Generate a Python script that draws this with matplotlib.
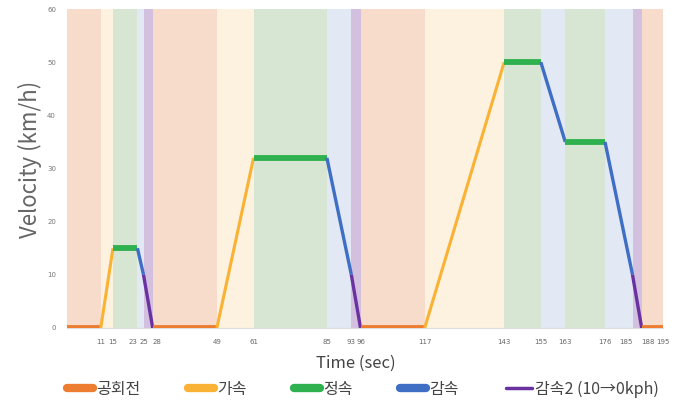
import matplotlib
matplotlib.use("Agg")
import matplotlib.pyplot as plt
from matplotlib.lines import Line2D

plt.rcParams['font.family'] = ['Noto Sans CJK KR', 'DejaVu Sans']

# breakpoints of the cycle (sec) and velocity (km/h)
times = [0, 11, 15, 23, 25, 28, 49, 61, 85, 93, 96, 117, 143, 155, 163, 176, 185, 188, 195]
speeds = [0, 0, 15, 15, 10, 0, 0, 32, 32, 10, 0, 0, 50, 50, 35, 35, 10, 0, 0]
# phase of each segment between breakpoints
phases = ['idle', 'acc', 'cru', 'dec', 'dec2', 'idle', 'acc', 'cru', 'dec', 'dec2',
          'idle', 'acc', 'cru', 'dec', 'cru', 'dec', 'dec2', 'idle']
labels = {'idle': '공회전', 'acc': '가속', 'cru': '정속', 'dec': '감속', 'dec2': '감속2 (10→0kph)'}
xticks = times[1:]

line_col = {'idle': '#ed7d31', 'acc': '#f9b233', 'cru': '#2fb14f', 'dec': '#3f6fc4', 'dec2': '#6a31a0'}
band_col = {'idle': '#f8dccb', 'acc': '#fcf2df', 'cru': '#d6e6d3', 'dec': '#e2e8f4', 'dec2': '#d3c0df'}
lw = {'idle': 4.2, 'acc': 2.2, 'cru': 4.2, 'dec': 2.4, 'dec2': 2.4}

fig = plt.figure(figsize=(6.85, 4.12), dpi=100)
ax = fig.add_axes([0.098, 0.204, 0.87, 0.774])

for i, p in enumerate(phases):
    ax.axvspan(times[i], times[i + 1], color=band_col[p], lw=0, zorder=0)
for i, p in enumerate(phases):
    ax.plot(times[i:i + 2], speeds[i:i + 2], color=line_col[p], lw=lw[p],
            solid_capstyle='butt', zorder=3)

narrow = ['Liberation Sans Narrow', 'DejaVu Sans']
ax.set_xlim(0, 195)
ax.set_ylim(0, 60)
ax.set_xticks(xticks)
ax.set_xticklabels([str(t) for t in xticks], fontsize=5, family=narrow, color='#666666')
# tightly packed ticks: push neighbours apart
for lab, t in zip(ax.get_xticklabels(), xticks):
    if t in (23, 185):
        lab.set_ha('right')
    elif t in (28, 188):
        lab.set_ha('left')
ax.set_yticks(range(0, 61, 10))
ax.set_yticklabels([str(v) for v in range(0, 61, 10)], fontsize=5, family=narrow, color='#777777')
ax.tick_params(length=0, pad=8)
for s in ['top', 'right', 'left']:
    ax.spines[s].set_visible(False)
ax.spines['bottom'].set_color('#dddddd')
ax.set_ylabel('Velocity (km/h)', fontsize=16, color='#666666')
ax.yaxis.set_label_coords(-0.042, 0.53)
ax.set_xlabel('Time (sec)', fontsize=12, color='#444444')
ax.xaxis.set_label_coords(0.485, -0.085)

handles = [Line2D([], [], color=line_col[k], lw=(6 if k != 'dec2' else 2.5), solid_capstyle='round')
           for k in labels]
fig.legend(handles, list(labels.values()), loc='center', bbox_to_anchor=(0.53, 0.055), ncol=5,
           frameon=False, fontsize=11.5, handlelength=1.6, handletextpad=0.2, columnspacing=3.0,
           labelcolor='#444444')

fig.savefig('out.png', dpi=100)
